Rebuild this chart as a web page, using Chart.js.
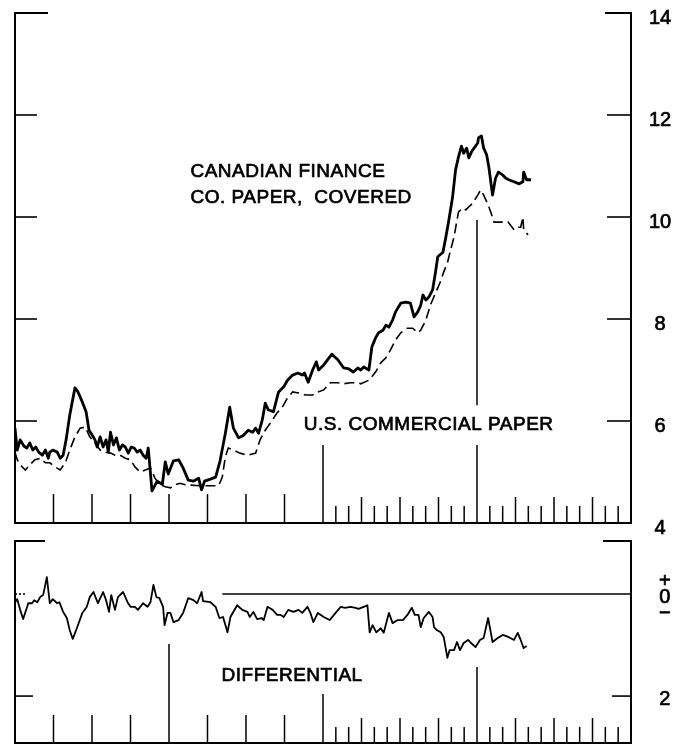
<!DOCTYPE html>
<html>
<head>
<meta charset="utf-8">
<script src="https://cdn.jsdelivr.net/npm/chart.js@4.4.1/dist/chart.umd.min.js"></script>
<style>
  html, body { margin: 0; padding: 0; background: #fff; }
  #wrap { position: relative; width: 687px; height: 748px; }
  canvas { position: absolute; left: 0; }
  #top { top: 0; }
  #bottom { top: 540px; }
</style>
</head>
<body>
<div id="wrap">
  <canvas id="top" width="687" height="540"></canvas>
  <canvas id="bottom" width="687" height="208"></canvas>
</div>
<script>
// x is counted in weeks from the start of the period: 16 years of 52 weeks
const YEARS = 16;
const WEEKS_PER_YEAR = 52;

// Canadian finance co. paper, covered (solid line)
const canadaWeeks = [0,3,7,12,16,20,24,28,32,37,41,45,47,51,57,61,65,69,74,81,
  85,91,96,100,104,108,111,115,119,123,126,129,133,137,141,145,149,153,157,161,
  165,169,173,177,180,185,192,199,203,207,214,221,227,234,241,248,252,256,264,271,
  277,284,290,295,302,308,315,321,325,329,334,338,342,349,356,363,368,375,382,388,
  391,396,402,407,410,417,428,436,444,451,457,463,467,471,478,482,487,491,497,501,
  505,510,514,521,528,534,539,544,548,551,555,559,564,568,571,578,582,586,591,595,
  599,603,606,610,613,617,621,625,626,630,633,637,640,645,649,653,659,663,667,674,
  681,686,687,691,697];
const canadaRates = [5.86,5.43,5.63,5.51,5.47,5.57,5.43,5.49,5.39,5.33,
  5.43,5.27,5.39,5.43,5.39,5.27,5.33,5.63,6.12,6.65,
  6.57,6.37,6.18,5.82,5.73,5.63,5.49,5.69,5.49,5.63,
  5.39,5.78,5.53,5.67,5.43,5.53,5.49,5.37,5.49,5.47,
  5.39,5.43,5.33,5.27,5.47,4.63,4.82,4.76,5.20,4.96,
  5.22,5.24,5.08,4.84,4.82,4.88,4.65,4.82,4.86,4.90,
  5.22,5.75,6.27,5.86,5.67,5.71,5.82,5.78,5.86,5.76,
  6.02,6.35,6.22,6.18,6.57,6.67,6.80,6.90,6.94,6.90,
  6.94,6.76,7.00,7.16,7.00,7.10,7.31,7.20,7.04,7.02,
  6.96,7.04,7.00,7.06,7.00,7.45,7.63,7.73,7.78,7.88,
  7.84,7.98,8.14,8.31,8.33,8.31,8.04,8.14,8.27,8.47,
  8.37,8.43,8.57,8.92,9.22,9.31,9.61,9.94,10.39,10.92,
  11.18,11.39,11.25,11.35,11.16,11.29,11.37,11.45,11.55,11.59,
  11.35,11.22,10.98,10.43,10.76,10.88,10.82,10.76,10.73,10.69,
  10.65,10.69,10.88,10.73,10.73];

// U.S. commercial paper (dashed line)
const usWeeks = [0,3,7,14,20,27,34,41,47,54,61,68,74,81,88,95,101,108,115,122,
  129,135,142,149,156,162,169,176,183,189,196,203,210,216,223,230,250,275,280,284,
  288,295,304,314,325,331,338,345,354,361,368,375,383,392,402,409,417,426,436,444,
  453,463,467,478,487,494,501,507,514,521,530,537,544,548,555,561,568,574,579,584,
  589,593,597,599,605,609,613,618,625,629,633,639,643,647,656,666,674,679,683,686,
  687,693];
const usRates = [5.39,5.24,5.14,5.04,5.14,5.24,5.27,5.18,5.18,5.10,
  5.04,5.18,5.43,5.69,5.86,5.88,5.69,5.57,5.43,5.39,
  5.37,5.33,5.33,5.27,5.24,5.10,5.00,5.04,5.08,4.88,
  4.75,4.71,4.69,4.75,4.78,4.75,4.73,4.73,4.90,5.29,
  5.47,5.43,5.37,5.33,5.37,5.63,5.82,5.96,6.16,6.27,
  6.45,6.57,6.55,6.51,6.51,6.57,6.61,6.75,6.75,6.73,
  6.75,6.75,6.73,6.80,6.96,7.14,7.24,7.39,7.59,7.73,
  7.82,7.82,7.73,7.78,7.98,8.27,8.51,8.71,8.92,9.10,
  9.39,9.61,9.94,10.10,10.18,10.14,10.20,10.27,10.43,10.53,
  10.43,10.24,10.08,9.90,9.90,9.90,9.75,9.80,9.80,10.0,
  9.75,9.65];

// differential, positive = below zero on the chart
const diffWeeks = [0,3,7,11,18,23,26,30,34,38,43,47,51,57,60,65,70,74,78,84,
  91,97,101,106,112,119,123,127,130,135,139,146,152,156,162,166,173,179,183,187,
  191,195,200,202,206,210,214,221,227,234,241,246,252,254,264,271,276,281,287,291,
  300,307,314,317,322,327,333,336,341,348,354,359,363,369,376,383,388,395,399,403,
  409,417,425,433,440,446,453,460,464,471,476,479,483,488,494,498,505,510,517,524,
  530,536,540,545,548,552,559,564,566,570,575,579,584,587,593,597,601,606,612,616,
  622,628,633,639,645,652,659,666,674,679,683,687,691];
const diffValues = [0.16,0.10,0.31,0.49,0.18,0.18,0.12,0.16,0.06,0.02,
  -0.33,0.18,0.10,0.18,0.16,0.35,0.47,0.71,0.88,0.65,
  0.37,0.25,0.06,-0.04,0.18,-0.04,0.12,0.35,0.02,0.31,
  0.06,-0.04,0.16,0.25,0.25,0.31,0.18,0.25,0.16,-0.18,
  0.06,0.08,0.25,0.61,0.37,0.37,0.55,0.51,0.37,0.08,
  0.12,0.18,-0.04,0.14,0.16,0.25,0.47,0.45,0.75,0.45,
  0.22,0.31,0.35,0.45,0.35,0.49,0.47,0.51,0.25,0.31,
  0.41,0.41,0.45,0.31,0.35,0.31,0.37,0.25,0.37,0.55,
  0.37,0.45,0.51,0.37,0.25,0.27,0.25,0.27,0.29,0.25,
  0.22,0.75,0.61,0.75,0.67,0.76,0.37,0.57,0.51,0.51,
  0.41,0.27,0.41,0.41,0.65,0.47,0.35,0.45,0.65,0.71,
  0.75,0.84,1.25,1.10,1.10,0.94,1.10,0.96,0.90,0.96,
  1.04,0.90,0.86,0.47,0.94,0.86,0.80,0.84,0.90,0.76,
  0.90,1.06,1.02];

const rateTicks = [4, 6, 8, 10, 12, 14];
const diffTicks = [0, 2];

const FONT = '"Liberation Sans", Arial, sans-serif';

function points(xs, ys) {
  return xs.map((w, i) => ({ x: w, y: ys[i] }));
}

// keep the chart area where the layout padding puts it
function fixAxis(width) {
  return axis => {
    axis.width = width;
    axis.paddingTop = 0;
    axis.paddingBottom = 0;
  };
}

// frame, inward tick marks, year ticks and the text labels
const panelFrame = {
  id: 'panelFrame',
  afterDraw(chart, args, o) {
    const { ctx, chartArea: a, scales: { x, y } } = chart;
    ctx.save();
    ctx.strokeStyle = '#000';
    ctx.lineCap = 'butt';

    ctx.lineWidth = 2;
    ctx.beginPath();
    ctx.moveTo(a.left + o.topLeft, a.top);
    ctx.lineTo(a.left, a.top);
    ctx.lineTo(a.left, a.bottom);
    ctx.lineTo(a.right, a.bottom);
    ctx.lineTo(a.right, a.top);
    ctx.lineTo(a.right - o.topRight, a.top);
    ctx.stroke();

    ctx.lineWidth = 1.6;
    o.leftTicks.forEach(([v, len, dotted]) => {
      const py = y.getPixelForValue(v);
      ctx.setLineDash(dotted ? [2, 2] : []);
      ctx.beginPath();
      ctx.moveTo(a.left, py);
      ctx.lineTo(a.left + len, py);
      ctx.stroke();
    });
    ctx.setLineDash([]);
    o.rightTicks.forEach(([v, len]) => {
      const py = y.getPixelForValue(v);
      ctx.beginPath();
      ctx.moveTo(a.right, py);
      ctx.lineTo(a.right - len, py);
      ctx.stroke();
    });

    // year ticks along the bottom
    ctx.lineWidth = 1.5;
    const vtick = (w, len) => {
      const px = x.getPixelForValue(w);
      ctx.beginPath();
      ctx.moveTo(px, a.bottom);
      ctx.lineTo(px, a.bottom - len);
      ctx.stroke();
    };
    for (let yr = 1; yr < YEARS; yr++) {
      if (o.markers[yr]) continue;
      vtick(yr * WEEKS_PER_YEAR, yr < o.fineFrom ? o.earlyLen : o.lateLen);
    }
    for (let yr = o.fineFrom; yr < YEARS; yr++) {
      vtick((yr + 1 / 3) * WEEKS_PER_YEAR, o.subLen);
      vtick((yr + 2 / 3) * WEEKS_PER_YEAR, o.subLen);
    }
    Object.keys(o.markers).forEach(yr => {
      const px = x.getPixelForValue(yr * WEEKS_PER_YEAR);
      o.markers[yr].forEach(([v0, v1]) => {
        ctx.beginPath();
        ctx.moveTo(px, y.getPixelForValue(v0));
        ctx.lineTo(px, v1 == null ? a.bottom : y.getPixelForValue(v1));
        ctx.stroke();
      });
    });

    if (o.zeroFrom != null) {
      const py = y.getPixelForValue(0);
      ctx.lineWidth = 1.5;
      ctx.beginPath();
      ctx.moveTo(x.getPixelForValue(o.zeroFrom), py);
      ctx.lineTo(a.right, py);
      ctx.stroke();
    }

    // labels, slightly stroked so they read as heavy as the print
    ctx.fillStyle = '#000';
    ctx.lineWidth = 0.7;
    ctx.font = '19px ' + FONT;
    ctx.letterSpacing = '0.5px';
    ctx.textBaseline = 'middle';
    ctx.textAlign = 'left';
    o.texts.forEach(t => {
      const tx = x.getPixelForValue(t.week), ty = y.getPixelForValue(t.value);
      ctx.fillText(t.text, tx, ty);
      ctx.strokeText(t.text, tx, ty);
    });
    ctx.restore();
  }
};

const xScale = {
  type: 'linear',
  min: 0,
  max: YEARS * WEEKS_PER_YEAR,
  display: false
};

new Chart(document.getElementById('top'), {
  type: 'line',
  data: {
    datasets: [
      {
        data: points(canadaWeeks, canadaRates),
        borderColor: '#000',
        borderWidth: 2.8,
        borderJoinStyle: 'round',
        pointRadius: 0,
        tension: 0
      },
      {
        data: points(usWeeks, usRates),
        borderColor: '#000',
        borderWidth: 1.6,
        borderDash: [10, 5],
        pointRadius: 0,
        tension: 0
      }
    ]
  },
  options: {
    responsive: false,
    animation: false,
    events: [],
    layout: { padding: { left: 15, top: 13, bottom: 17, right: 0 } },
    scales: {
      x: xScale,
      y: {
        position: 'right',
        min: 4,
        max: 14,
        afterBuildTicks: axis => { axis.ticks = rateTicks.map(v => ({ value: v })); },
        afterFit: fixAxis(56),
        grid: { display: false, drawTicks: false },
        border: { display: false },
        ticks: {
          padding: 18,
          crossAlign: 'center',
          labelOffset: 5,
          color: '#000',
          textStrokeColor: '#000',
          textStrokeWidth: 0.7,
          font: { family: FONT, size: 20 }
        }
      }
    },
    plugins: {
      legend: { display: false },
      tooltip: { enabled: false },
      panelFrame: {
        topLeft: 33,
        topRight: 26,
        leftTicks: [[6, 22], [8, 22], [10, 22], [12, 22]],
        rightTicks: [[6, 24], [8, 24], [10, 24], [12, 24]],
        fineFrom: 8,
        earlyLen: 29,
        lateLen: 26,
        subLen: 17,
        markers: {
          8: [[5.53, null]],
          12: [[9.94, 6.31], [5.53, null]]
        },
        texts: [
          { text: 'CANADIAN FINANCE', week: 237, value: 10.88 },
          { text: 'CO. PAPER,  COVERED', week: 237, value: 10.37 },
          { text: 'U.S. COMMERCIAL PAPER', week: 390, value: 5.92 }
        ]
      }
    }
  },
  plugins: [panelFrame]
});

new Chart(document.getElementById('bottom'), {
  type: 'line',
  data: {
    datasets: [
      {
        data: points(diffWeeks, diffValues),
        borderColor: '#000',
        borderWidth: 1.8,
        borderJoinStyle: 'round',
        pointRadius: 0,
        tension: 0
      }
    ]
  },
  options: {
    responsive: false,
    animation: false,
    events: [],
    layout: { padding: { left: 15, top: 1, bottom: 5, right: 0 } },
    scales: {
      x: xScale,
      y: {
        position: 'right',
        reverse: true,
        min: -1.04,
        max: 2.92,
        afterBuildTicks: axis => { axis.ticks = diffTicks.map(v => ({ value: v })); },
        afterFit: fixAxis(56),
        grid: { display: false, drawTicks: false },
        border: { display: false },
        ticks: {
          padding: 28,
          crossAlign: 'center',
          labelOffset: 3,
          color: '#000',
          textStrokeColor: '#000',
          textStrokeWidth: 0.7,
          font: { family: FONT, size: 20, lineHeight: 0.8 },
          callback: v => (v === 0 ? ['+', '0', '\u2212'] : String(v))
        }
      }
    },
    plugins: {
      legend: { display: false },
      tooltip: { enabled: false },
      panelFrame: {
        topLeft: 30,
        topRight: 28,
        leftTicks: [[0, 10, true], [2, 18]],
        rightTicks: [[2, 19]],
        fineFrom: 8,
        earlyLen: 28,
        lateLen: 25,
        subLen: 16,
        markers: {
          4: [[0.98, null]],
          8: [[1.96, null]],
          12: [[1.43, null]]
        },
        zeroFrom: 280,
        texts: [
          { text: 'DIFFERENTIAL', week: 279, value: 1.61 }
        ]
      }
    }
  },
  plugins: [panelFrame]
});
</script>
</body>
</html>
